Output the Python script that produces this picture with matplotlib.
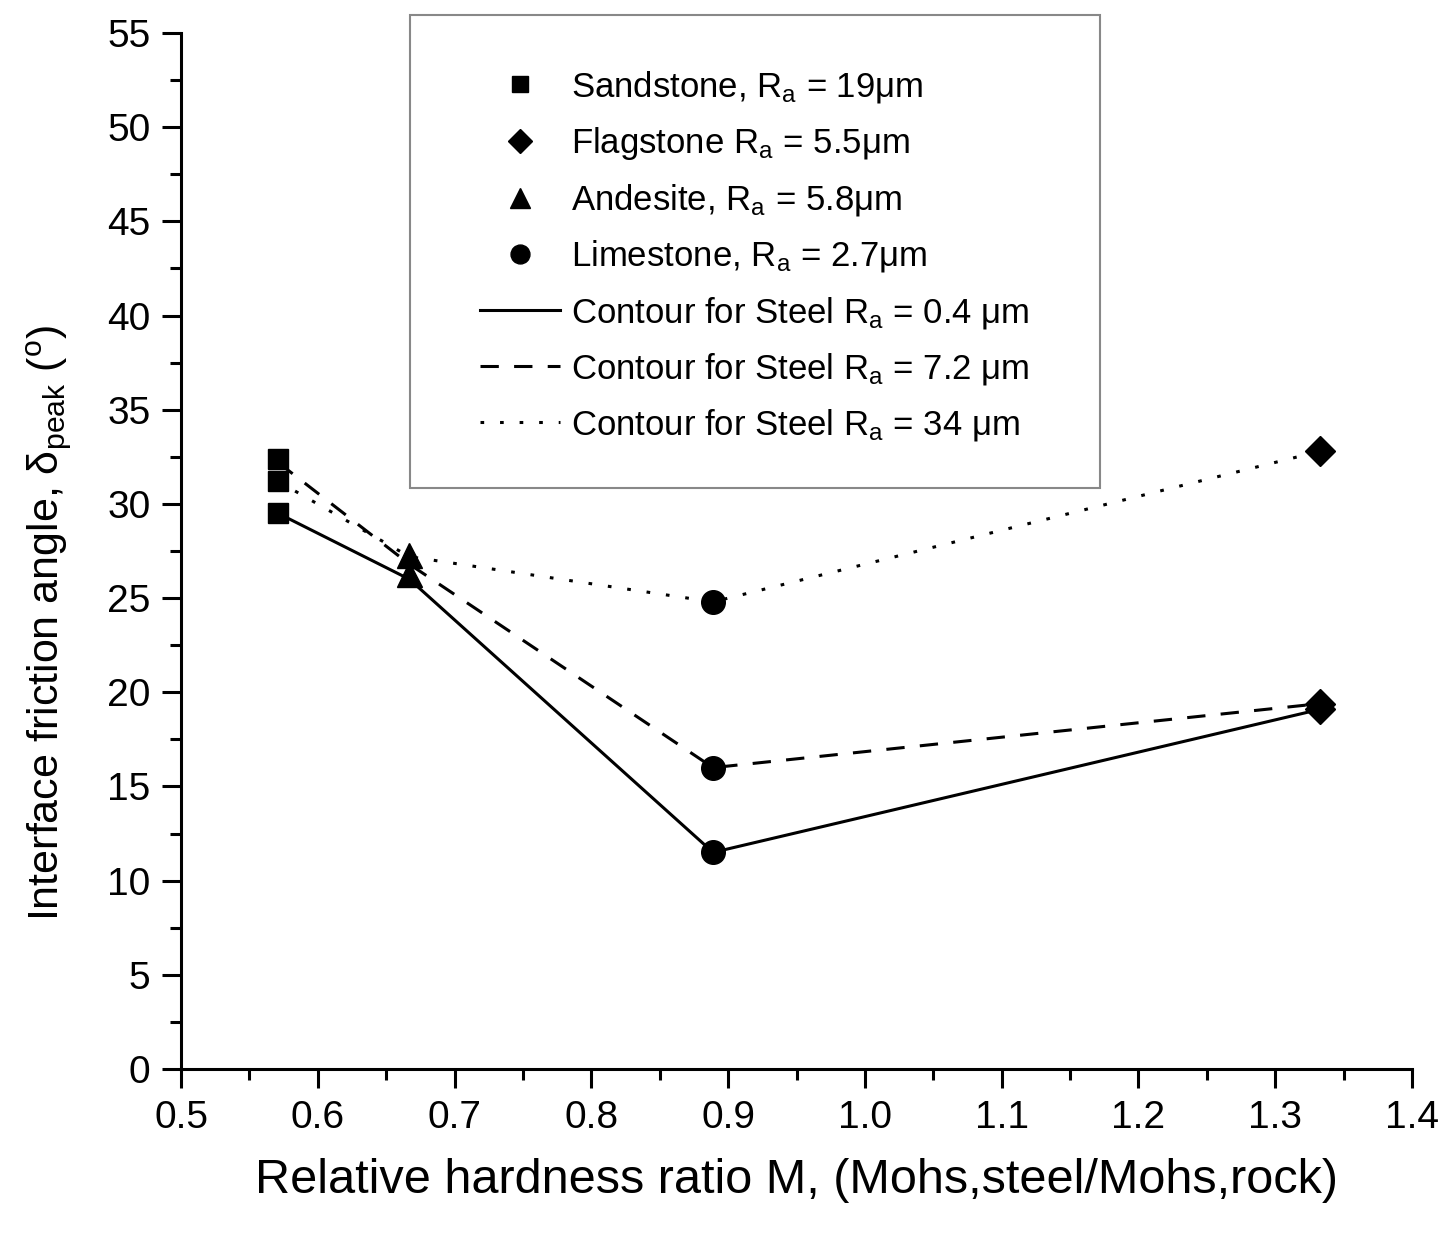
import numpy as np
import matplotlib
matplotlib.use("Agg")
from matplotlib import pyplot as plt
from matplotlib.patches import Rectangle
from matplotlib.ticker import MultipleLocator, FormatStrFormatter

plt.rcParams['font.family'] = ['Liberation Sans', 'DejaVu Sans']
plt.rcParams['mathtext.fontset'] = 'custom'
plt.rcParams['mathtext.rm'] = 'Liberation Sans'
plt.rcParams['mathtext.it'] = 'Liberation Sans'
plt.rcParams['mathtext.default'] = 'regular'

# data
sand_x = [0.571, 0.571, 0.571]
sand_y = [32.4, 31.2, 29.5]
flag_x = [1.333, 1.333, 1.333]
flag_y = [32.8, 19.4, 19.1]
ande_x = [0.667, 0.667]
ande_y = [27.3, 26.3]
lime_x = [0.889, 0.889, 0.889]
lime_y = [24.8, 16.0, 11.5]

contour_x = [0.571, 0.667, 0.889, 1.333]
steel_04 = [29.5, 26.0, 11.5, 19.1]
steel_72 = [32.2, 26.8, 16.0, 19.4]
steel_34 = [31.2, 27.2, 24.8, 32.8]

fig = plt.figure(figsize=(14.47, 12.33), dpi=100)
ax = fig.add_axes([0.1251, 0.133, 0.8507, 0.8402])

ax.plot(contour_x, steel_04, color='black', lw=2.2, ls='-',
        label='Contour for Steel R$_a$ = 0.4 μm', zorder=2)
ax.plot(contour_x, steel_72, color='black', lw=2.2, ls=(0, (6, 5)),
        label='Contour for Steel R$_a$ = 7.2 μm', zorder=2)
ax.plot(contour_x, steel_34, color='black', lw=2.2, ls=(0, (1.2, 5.2)),
        label='Contour for Steel R$_a$ = 34 μm', zorder=2)

ax.plot(sand_x, sand_y, 's', color='black', ms=14, ls='none',
        label='Sandstone, R$_a$ = 19μm', zorder=3)
ax.plot(flag_x, flag_y, 'D', color='black', ms=15, ls='none',
        label='Flagstone R$_a$ = 5.5μm', zorder=3)
ax.plot(ande_x, ande_y, '^', color='black', ms=18, ls='none',
        label='Andesite, R$_a$ = 5.8μm', zorder=3)
ax.plot(lime_x, lime_y, 'o', color='black', ms=17, ls='none',
        label='Limestone, R$_a$ = 2.7μm', zorder=3)

ax.set_xlim(0.5, 1.4)
ax.set_ylim(0, 55)
ax.xaxis.set_major_locator(MultipleLocator(0.1))
ax.xaxis.set_minor_locator(MultipleLocator(0.05))
ax.xaxis.set_major_formatter(FormatStrFormatter('%.1f'))
ax.yaxis.set_major_locator(MultipleLocator(5))
ax.yaxis.set_minor_locator(MultipleLocator(2.5))
ax.tick_params(axis='both', which='major', direction='out', length=14, width=2.2,
               labelsize=28, pad=8)
ax.tick_params(axis='both', which='minor', direction='out', length=8, width=2.2)

for s in ['top', 'right']:
    ax.spines[s].set_visible(False)
for s in ['left', 'bottom']:
    ax.spines[s].set_linewidth(2.2)

ax.set_xlabel('Relative hardness ratio M, (Mohs,steel/Mohs,rock)', fontsize=35, labelpad=16)
ax.set_ylabel('Interface friction angle, δ$_{peak}$ ($^o$)', fontsize=31)
ax.yaxis.set_label_coords(-0.088, 0.43)

handles, labels = ax.get_legend_handles_labels()
order = [3, 4, 5, 6, 0, 1, 2]
leg = fig.legend([handles[i] for i in order], [labels[i] for i in order],
                 loc='upper left', bbox_to_anchor=(0.3317, 0.944),
                 fontsize=25, handlelength=2.3, handletextpad=0.32,
                 labelspacing=0.58, borderpad=0, borderaxespad=0,
                 frameon=False, markerscale=0.8)

# legend box
fig.patches.append(Rectangle((0.2833, 0.6042), 0.4768, 0.3836, transform=fig.transFigure,
                             fill=False, edgecolor='#888888', linewidth=1.5, zorder=1))

fig.savefig('out.png', dpi=100)
